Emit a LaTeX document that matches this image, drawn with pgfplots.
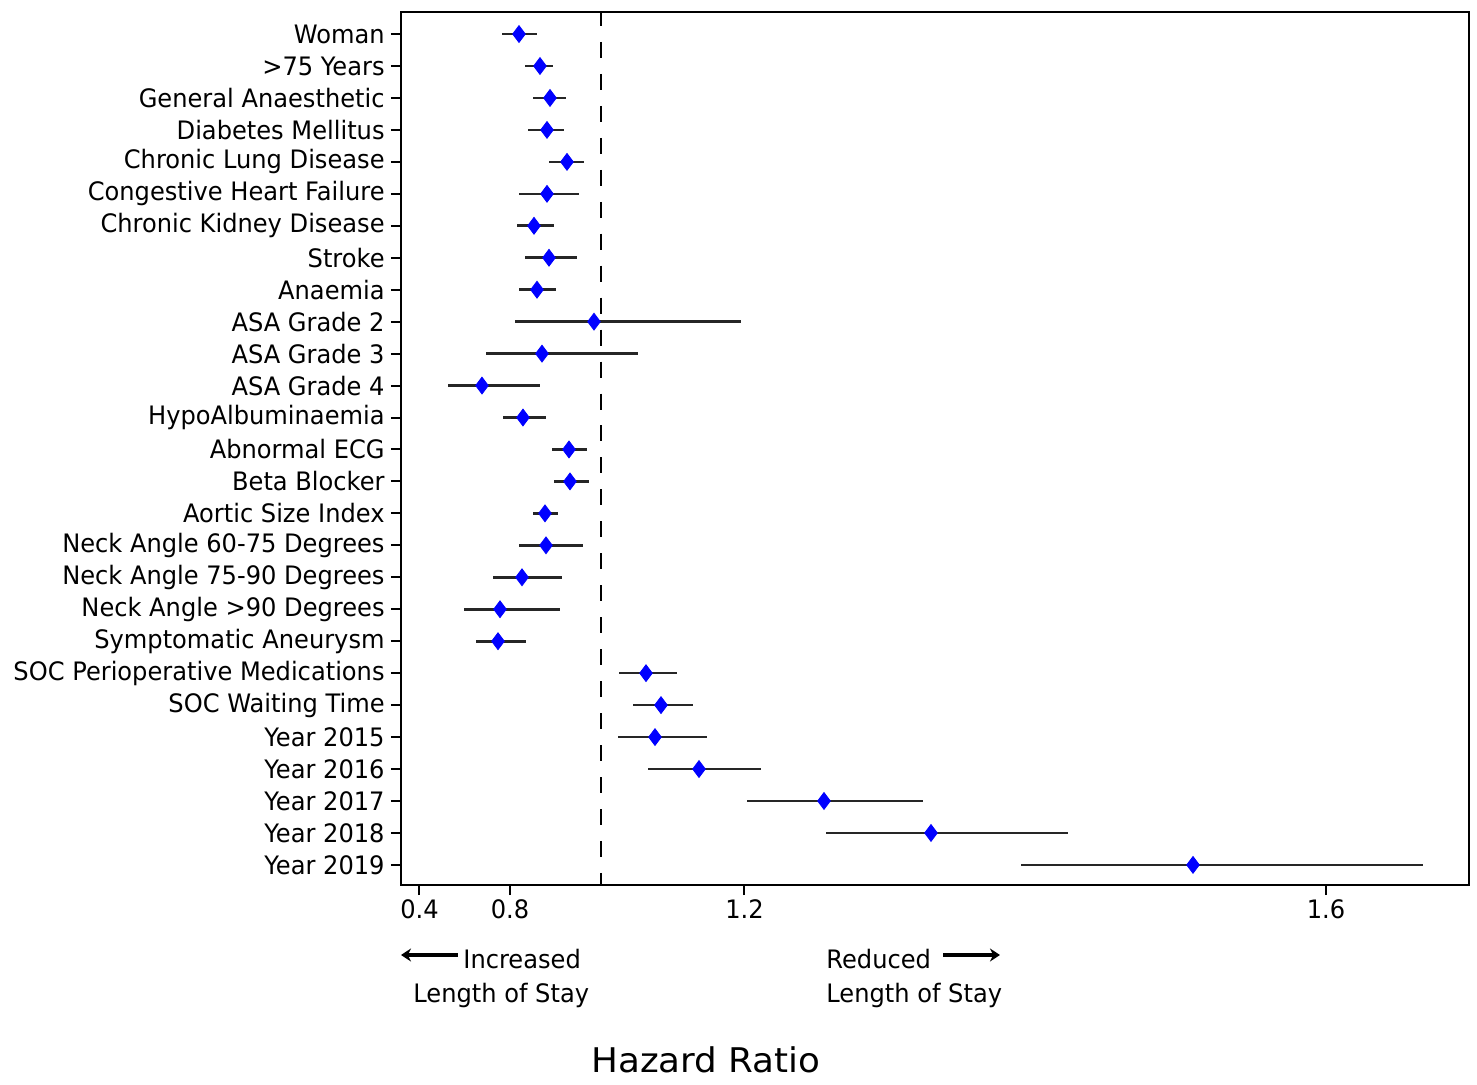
\documentclass[border=0pt]{standalone}
\usepackage{pgfplots}
\pgfplotsset{compat=1.18}
\usepackage{pgfplotstable}
\usepackage{fontspec}
\setmainfont{DejaVu Sans}[FakeStretch=0.95]
\newfontfamily\titlefont{DejaVu Sans}[FakeStretch=1.05]
\usetikzlibrary{arrows.meta}

% x = horizontal position on the chart's (non-linear) hazard-ratio scale
\pgfplotstableread{
idx x lo hi
0 519 502 537
1 540 525 553
2 550 533 566
3 547 528 564
4 567 549 584
5 547 519 579
6 534 517 554
7 549 525 577
8 537 519 556
9 594 515 741
10 542 486 638
11 482 448 540
12 523 503 546
13 569 552 587
14 570 554 589
15 545 533 558
16 546 519 583
17 522 493 562
18 500 464 560
19 498 476 526
20 646 619 677
21 661 633 693
22 655 618 707
23 699 648 761
24 824 747 923
25 931 826 1068
26 1193 1021 1423
}\hrdata

\newcommand{\lblfont}{\fontsize{12.7}{15}\selectfont}

\begin{document}
\begin{tikzpicture}
\useasboundingbox (-200.5pt,-99.5pt) rectangle (538pt,442.5pt);
\begin{axis}[
  at={(0pt,0pt)}, anchor=south west,
  scale only axis,
  width=534pt, height=436.5pt,
  xmin=401, xmax=1469,
  ymin=-0.69, ymax=26.63,
  y dir=reverse,
  clip=false,
  axis line style={line width=1pt},
  every tick/.style={line width=1pt, black},
  tick align=outside,
  major tick length=5pt,
  xtick pos=bottom, ytick pos=left,
  xtick={419.5,510,744.5,1326},
  xticklabels={0.4,0.8,1.2,1.6},
  ytick={0,...,26},
  yticklabels={Woman,{>75 Years},General Anaesthetic,Diabetes Mellitus,Chronic Lung Disease,Congestive Heart Failure,Chronic Kidney Disease,Stroke,Anaemia,ASA Grade 2,ASA Grade 3,ASA Grade 4,HypoAlbuminaemia,Abnormal ECG,Beta Blocker,Aortic Size Index,Neck Angle 60-75 Degrees,Neck Angle 75-90 Degrees,Neck Angle >90 Degrees,Symptomatic Aneurysm,SOC Perioperative Medications,SOC Waiting Time,Year 2015,Year 2016,Year 2017,Year 2018,Year 2019},
  ticklabel style={font=\lblfont, text=black},
  yticklabel style={inner xsep=3pt},
  xticklabel style={inner ysep=2pt},
]
% reference line
\addplot[black, line width=1.1pt, dash pattern=on 8pt off 7.98pt, dash phase=1pt]
  coordinates {(601,-0.69) (601,26.63)};
% confidence intervals
\addplot[draw=none, mark=none, black!85,
  error bars/.cd, x dir=both, x explicit,
  error bar style={line width=1.3pt, black!85}, error mark=none]
  table[x=x, y=idx, x error plus expr=\thisrow{hi}-\thisrow{x}, x error minus expr=\thisrow{x}-\thisrow{lo}] {\hrdata};
% point estimates
\addplot[only marks, mark=diamond*, mark size=4.2pt, color=blue, fill=blue]
  table[x=x, y=idx] {\hrdata};

% annotations below the axis
\draw[line width=1.7pt, -{Stealth[length=5pt,width=6.5pt]}] (axis cs:458,28.82) -- (axis cs:401,28.82);
\node[anchor=base west, inner sep=0pt, font=\lblfont] at (axis cs:463,29.23) {Increased};
\node[anchor=base west, inner sep=0pt, font=\lblfont] at (axis cs:413,30.32) {Length of Stay};
\node[anchor=base west, inner sep=0pt, font=\lblfont] at (axis cs:826,29.23) {Reduced};
\draw[line width=1.7pt, -{Stealth[length=5pt,width=6.5pt]}] (axis cs:943,28.82) -- (axis cs:1000,28.82);
\node[anchor=base west, inner sep=0pt, font=\lblfont] at (axis cs:826,30.32) {Length of Stay};
\node[anchor=base, inner sep=0pt, font=\titlefont\fontsize{17}{20}\selectfont] at (axis cs:706,32.5) {Hazard Ratio};
\end{axis}
\end{tikzpicture}
\end{document}
